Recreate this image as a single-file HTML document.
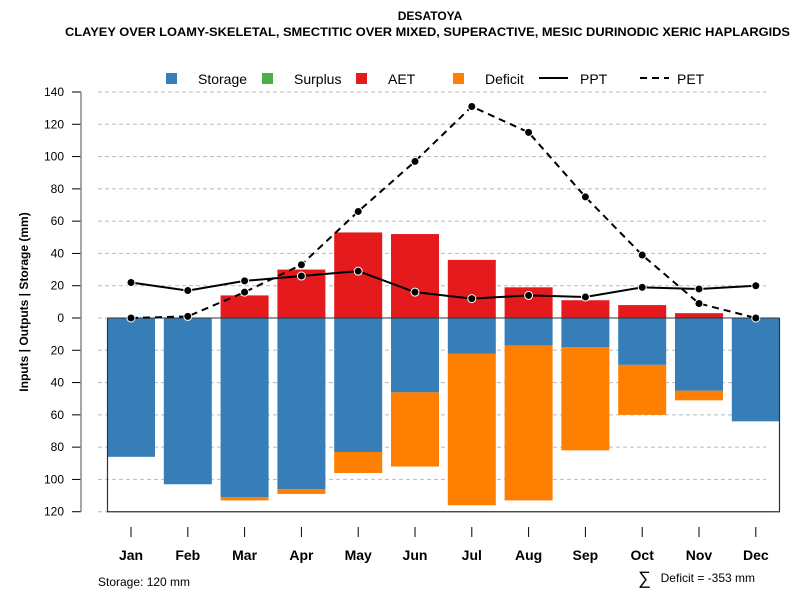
<!DOCTYPE html>
<html><head><meta charset="utf-8"><style>body{margin:0;background:#fff}svg{display:block;font-family:"Liberation Sans",sans-serif}</style></head>
<body>
<svg id="c" width="800" height="600"></svg>
<script>
const months=["Jan","Feb","Mar","Apr","May","Jun","Jul","Aug","Sep","Oct","Nov","Dec"];
const storage=[86,103,111,106,83,46,22,17,18,29,45,64];
const deficit=[0,0,2,3,13,46,94,96,64,31,6,0];
const aet=[0,0,14,30,53,52,36,19,11,8,3,0];
const ppt=[22,17,23,26,29,16,12,14,13,19,18,20];
const pet=[0,1,16,33,66,97,131,115,75,39,9,0];
const yTicks=[140,120,100,80,60,40,20,0,20,40,60,80,100,120];
const yVals=[140,120,100,80,60,40,20,0,-20,-40,-60,-80,-100,-120];
const storageCap=120;
const NS="http://www.w3.org/2000/svg";
const svg=document.getElementById('c');
const y=v=>318-v*(226/140);
const x=i=>131+i*56.8;
const bw=48;
function mk(t,a,p){const e=document.createElementNS(NS,t);for(const k in a)e.setAttribute(k,a[k]);(p||svg).appendChild(e);return e;}
function tx(s,a){const e=mk('text',a);e.textContent=s;return e;}
let t=tx('DESATOYA',{x:430,y:20,'text-anchor':'middle','font-size':12,'font-weight':'bold'});


t=tx('CLAYEY OVER LOAMY-SKELETAL, SMECTITIC OVER MIXED, SUPERACTIVE, MESIC DURINODIC XERIC HAPLARGIDS',{x:65,y:36,'font-size':12,'font-weight':'bold',textLength:725,lengthAdjust:'spacingAndGlyphs'});


yVals.forEach((v,i)=>{
 const g=mk('line',{x1:98,x2:766,y1:y(v),y2:y(v),stroke:'#bbb','stroke-dasharray':'4,3'});
 
 
 const tk=mk('line',{x1:72,x2:81,y1:y(v),y2:y(v),stroke:'#000'});
 
 
 const l=tx(yTicks[i],{x:64,y:y(v)+4,'text-anchor':'end','font-size':12});
 
 
});
let ax=mk('line',{x1:81,x2:81,y1:y(140),y2:y(-120),stroke:'#888','stroke-width':1.5});


t=tx('Inputs | Outputs | Storage    (mm)',{x:0,y:0,'font-size':12,'font-weight':'bold','text-anchor':'middle','xml:space':'preserve',transform:'translate(28,302) rotate(-90)'});


months.forEach((m,i)=>{
 const cx=x(i);
 if(deficit[i]>0){const r=mk('rect',{x:cx-bw/2,y:y(-storage[i]),width:bw,height:y(-storage[i]-deficit[i])-y(-storage[i]),fill:'#FF7F00'});
 
 }
 const s=mk('rect',{x:cx-bw/2,y:y(0),width:bw,height:y(-storage[i])-y(0),fill:'#377EB8'});
 
 
 if(aet[i]>0){const a=mk('rect',{x:cx-bw/2,y:y(aet[i]),width:bw,height:y(0)-y(aet[i]),fill:'#E41A1C'});
 
 }
 const tk=mk('line',{x1:cx,x2:cx,y1:527,y2:537,stroke:'#000'});
 
 
 const l=tx(m,{x:cx,y:560,'text-anchor':'middle','font-size':14,'font-weight':'bold'});
 
 
});
let box=mk('path',{d:`M107.5 ${y(0)} V${y(-storageCap)} H779.5 V${y(0)}`,fill:'none',stroke:'#333','stroke-width':1.2});


let zl=mk('line',{x1:107.5,x2:779.5,y1:y(0),y2:y(0),stroke:'#333'});


function series(d,name,dash){
 const p=mk('polyline',{points:d.map((v,i)=>x(i)+','+y(v)).join(' '),fill:'none',stroke:'#000','stroke-width':2,'stroke-dasharray':dash||'none'});
 
 
 d.forEach((v,i)=>{const c=mk('circle',{cx:x(i),cy:y(v),r:4,fill:'#000',stroke:'#fff','stroke-width':1});
 
 });
}
series(ppt,'ppt');
series(pet,'pet','7,5');
const lg=mk('g',{});


[['Storage','#377EB8',166],['Surplus','#4DAF4A',262],['AET','#E41A1C',356]].forEach(([n,c,lx])=>{
 const r=mk('rect',{x:lx,y:73,width:11,height:11,fill:c},lg);
 
 
 const l=mk('text',{x:lx+32,y:84,'font-size':14},lg);l.textContent=n;
 
 
});
let r=mk('rect',{x:453,y:73,width:11,height:11,fill:'#FF7F00'},lg);


let l=mk('text',{x:485,y:84,'font-size':14},lg);l.textContent='Deficit';


let ll=mk('line',{x1:539,x2:568,y1:78,y2:78,stroke:'#000','stroke-width':2},lg);


l=mk('text',{x:580,y:84,'font-size':14},lg);l.textContent='PPT';


ll=mk('line',{x1:640,x2:669,y1:78,y2:78,stroke:'#000','stroke-width':2,'stroke-dasharray':'7,5'},lg);


l=mk('text',{x:677,y:84,'font-size':14},lg);l.textContent='PET';


t=tx('Storage: '+storageCap+' mm',{x:98,y:586,'font-size':12});


t=tx('∑',{x:638,y:584,'font-size':18});


t=tx('Deficit = -353 mm',{x:755,y:582,'text-anchor':'end','font-size':12});


</script>
</body></html>
